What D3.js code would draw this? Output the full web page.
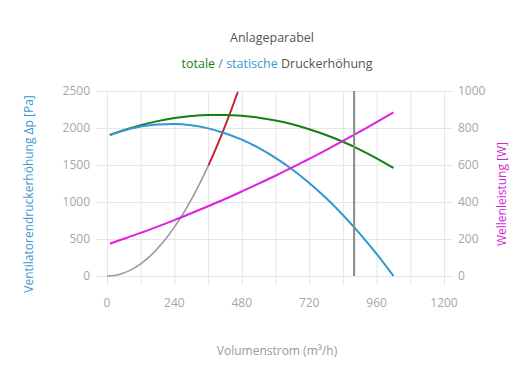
<!DOCTYPE html>
<html><head><meta charset="utf-8">
<script src="https://cdn.jsdelivr.net/npm/d3@7"></script>
<style>
html,body{margin:0;padding:0;background:#fff;}
svg{display:block;font-family:"Open Sans",sans-serif;}
</style></head>
<body>
<svg id="c" width="530" height="390"></svg>
<script>
// Flow points (m³/h)
const flow = [10,60,120,180,240,300,360,420,480,540,600,660,720,780,840,900,960,1020];
// static pressure increase (Pa)
const staticP = [1905,1966,2019,2048,2053,2036,1995,1930,1842,1731,1596,1439,1257,1053,825,573,298,0];
// total pressure increase (Pa)
const totalP = [1905,1971,2039,2093,2134,2162,2177,2177,2165,2140,2101,2050,1984,1906,1814,1709,1590,1459];
// shaft power (W)
const powerW = [175,201,233,267,302,339,377,416,457,499,542,587,633,681,730,780,832,885];
// system curve (Anlageparabel)
const paraQ = [0,40,80,120,160,200,240,280,320,360,400,440,467];
const paraP = [0,18,73,165,293,458,660,898,1174,1485,1834,2219,2500];
const redQ = [361,380,400,420,440,465];
const redP = [1494,1655,1834,2022,2219,2478];
const opFlow = 880;
const xTicks = [0,120,240,360,480,600,720,840,960,1080,1200];
const xLabels = [0,240,480,720,960,1200];
const yTicks = [0,500,1000,1500,2000,2500];
const y2Ticks = [0,200,400,600,800,1000];

const svg = d3.select("#c");
const x = d3.scaleLinear().domain([0,1200]).range([107,444]);
const y = d3.scaleLinear().domain([0,2500]).range([276,91]);
const y2 = d3.scaleLinear().domain([0,1000]).range([276,91]);
const grid = "#e6e6e6", lab = "#a6a6a6";

// grid
svg.append("g").selectAll("line").data(xTicks).join("line")
  .attr("x1",d=>x(d)+0.5).attr("x2",d=>x(d)+0.5).attr("y1",y(2500)).attr("y2",y(0)+9)
  .attr("stroke",grid);
svg.append("g").selectAll("line").data(yTicks).join("line")
  .attr("x1",97).attr("x2",453).attr("y1",d=>Math.round(y(d))+0.5).attr("y2",d=>Math.round(y(d))+0.5)
  .attr("stroke",grid);

// labels
svg.append("g").selectAll("text").data(yTicks).join("text")
  .attr("x",90).attr("y",d=>y(d)+4).attr("text-anchor","end")
  .attr("font-size",12).attr("fill",lab).text(d=>d);
svg.append("g").selectAll("text").data(y2Ticks).join("text")
  .attr("x",458).attr("y",d=>y2(d)+4).attr("text-anchor","start")
  .attr("font-size",12).attr("fill",lab).text(d=>d);
svg.append("g").selectAll("text").data(xLabels).join("text")
  .attr("x",d=>x(d)).attr("y",307).attr("text-anchor","middle")
  .attr("font-size",12).attr("fill",lab).text(d=>d);

// titles
svg.append("text").attr("x",272).attr("y",42).attr("text-anchor","middle")
  .attr("font-size",12.5).attr("fill","#555").text("Anlageparabel");
const st = svg.append("text").attr("x",277).attr("y",68).attr("text-anchor","middle").attr("font-size",12.5);
st.append("tspan").attr("fill","#1a801a").text("totale");
st.append("tspan").attr("fill","#777").text(" / ");
st.append("tspan").attr("fill","#3b97d3").text("statische");
st.append("tspan").attr("fill","#555").text(" Druckerhöhung");
svg.append("text").attr("x",277).attr("y",355).attr("text-anchor","middle")
  .attr("font-size",12).attr("fill","#999").text("Volumenstrom (m³/h)");
svg.append("text").attr("transform","translate(33,194) rotate(-90)").attr("text-anchor","middle")
  .attr("font-size",12).attr("fill","#3b97d3").text("Ventilatorendruckerhöhung Δp [Pa]");
svg.append("text").attr("transform","translate(506,194) rotate(-90)").attr("text-anchor","middle")
  .attr("font-size",12).attr("fill","#d21fd2").text("Wellenleistung [W]");

// curves
const line = (ys,sc)=>d3.line().x((d,i)=>x(d)).y((d,i)=>sc(ys[i])).curve(d3.curveMonotoneX);
svg.append("path").attr("d",line(paraP,y)(paraQ)).attr("fill","none").attr("stroke","#9a9a9a").attr("stroke-width",1.6);
svg.append("path").attr("d",line(redP,y)(redQ)).attr("fill","none").attr("stroke","#cc1f2e").attr("stroke-width",1.8);
svg.append("path").attr("d",line(totalP,y)(flow)).attr("fill","none").attr("stroke","#128012").attr("stroke-width",2);
svg.append("path").attr("d",line(staticP,y)(flow)).attr("fill","none").attr("stroke","#3396d2").attr("stroke-width",2);
svg.append("path").attr("d",line(powerW,y2)(flow)).attr("fill","none").attr("stroke","#e01fe0").attr("stroke-width",2);
svg.append("line").attr("x1",x(opFlow)).attr("x2",x(opFlow)).attr("y1",y(2500)).attr("y2",y(0))
  .attr("stroke","#8a8a8a").attr("stroke-width",2);
</script>
</body></html>
